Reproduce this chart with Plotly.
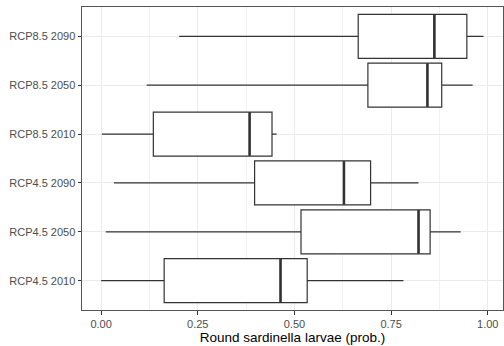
import plotly.graph_objects as go

categories = ["RCP4.5 2010", "RCP4.5 2050", "RCP4.5 2090",
              "RCP8.5 2010", "RCP8.5 2050", "RCP8.5 2090"]
lower = [0.000, 0.012, 0.033, 0.002, 0.118, 0.202]
q1 = [0.163, 0.517, 0.397, 0.135, 0.690, 0.665]
median = [0.464, 0.821, 0.628, 0.384, 0.844, 0.862]
q3 = [0.533, 0.851, 0.697, 0.442, 0.881, 0.946]
upper = [0.782, 0.930, 0.821, 0.454, 0.961, 0.989]
tick_vals = [0, 0.25, 0.5, 0.75, 1.0]
tick_text = ["0.00", "0.25", "0.50", "0.75", "1.00"]

LINE = "#333333"
fig = go.Figure()
fig.add_trace(go.Box(
    y=categories, q1=q1, median=median, q3=q3,
    lowerfence=lower, upperfence=upper,
    orientation="h", fillcolor="white", width=0.9,
    line=dict(color=LINE, width=1.2), whiskerwidth=0,
    boxpoints=False, hoverinfo="skip", showlegend=False,
))
fig.add_trace(go.Scatter(
    x=median, y=categories, mode="markers",
    marker=dict(symbol="line-ns", size=31, line=dict(color=LINE, width=2.6)),
    hoverinfo="skip", showlegend=False,
))
fig.update_layout(
    width=504, height=346,
    margin=dict(l=82, r=1, t=7, b=36),
    paper_bgcolor="white", plot_bgcolor="white",
    font=dict(family="Liberation Sans, Arial, sans-serif", color="#4d4d4d", size=11),
    xaxis=dict(
        range=[-0.0495, 1.0395], tickvals=tick_vals, ticktext=tick_text,
        showgrid=True, gridcolor="#ebebeb", gridwidth=1,
        minor=dict(dtick=0.125, tick0=0, showgrid=True, gridcolor="#f2f2f2", gridwidth=0.6),
        ticks="outside", ticklen=3.5, tickcolor=LINE, tickwidth=1,
        showline=True, mirror=True, linecolor="#555555", linewidth=1,
        zeroline=False, automargin=False,
        title=dict(text="Round sardinella larvae (prob.)", font=dict(size=13.5, color="black"), standoff=1),
        tickfont=dict(size=11, color="#4d4d4d"),
    ),
    yaxis=dict(
        type="category", categoryorder="array", categoryarray=categories,
        range=[-0.6, 5.6],
        showgrid=True, gridcolor="#ebebeb", gridwidth=1,
        ticks="outside", ticklen=3.5, tickcolor=LINE, tickwidth=1,
        showline=True, mirror=True, linecolor="#555555", linewidth=1,
        zeroline=False, automargin=False,
        tickfont=dict(size=11, color="#4d4d4d"),
    ),
)
fig.write_html("out.html", config={"displayModeBar": False},
               post_script="document.body.style.margin='0';document.body.style.overflow='hidden';")
